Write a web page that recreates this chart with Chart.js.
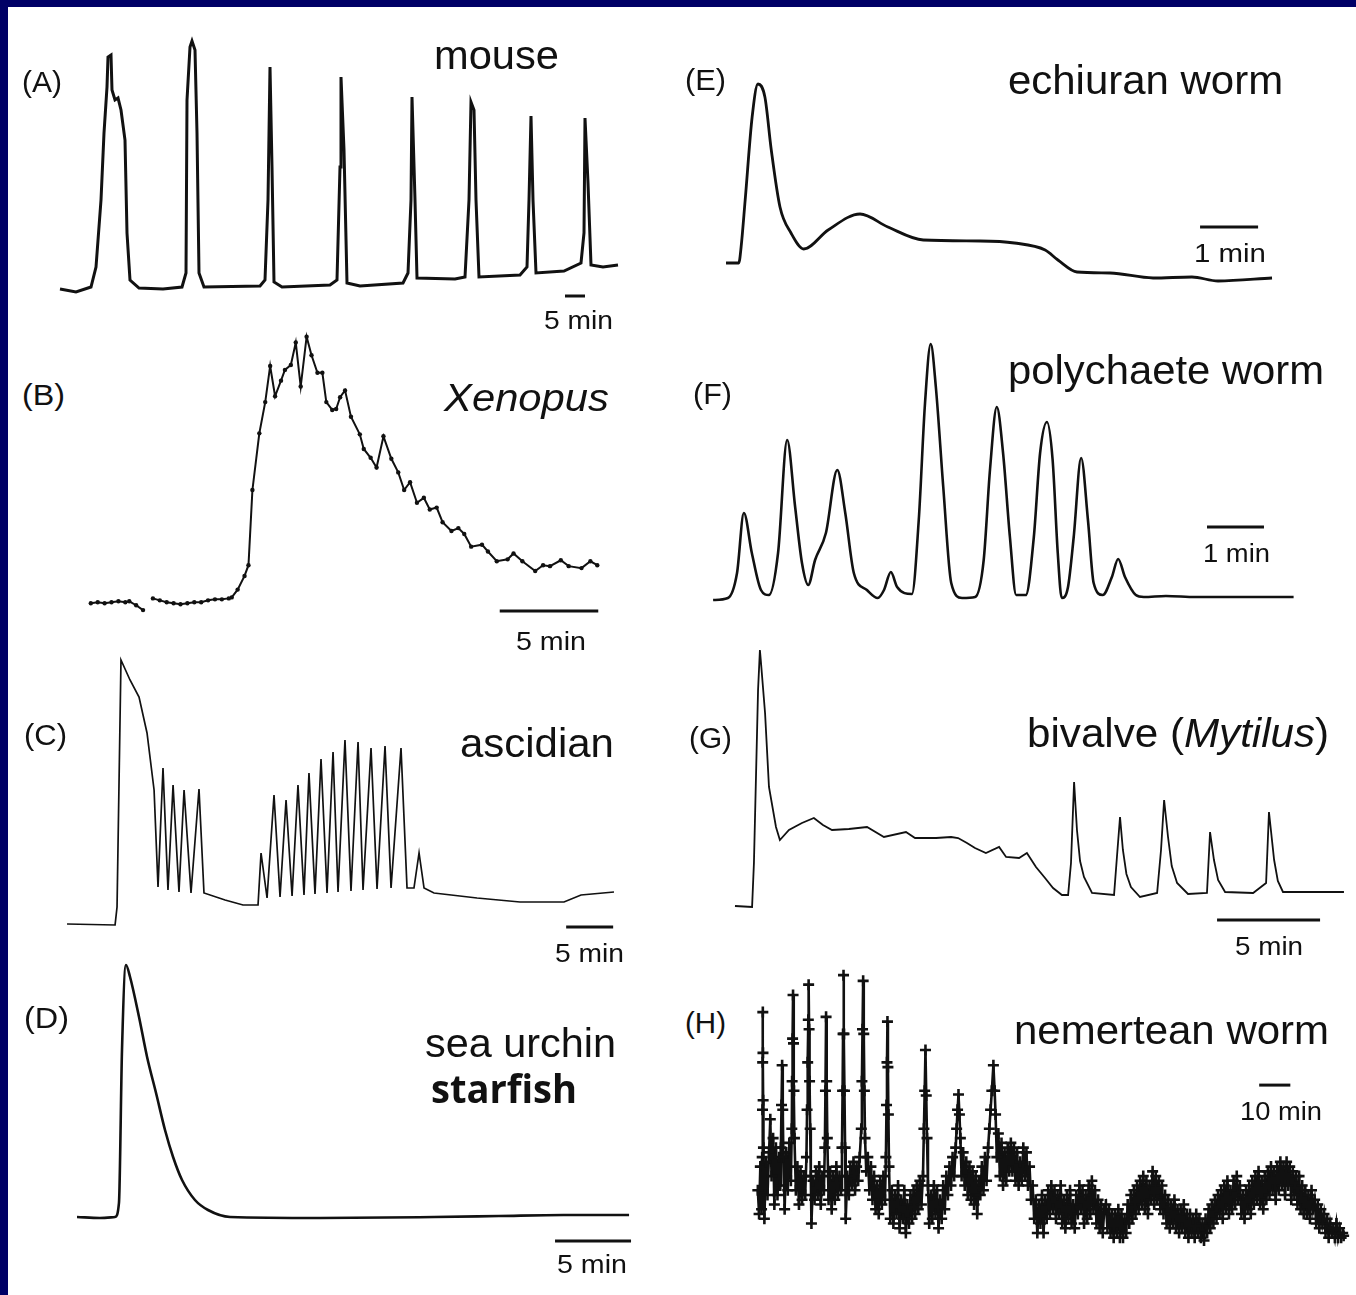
<!DOCTYPE html>
<html lang="en">
<head>
<meta charset="UTF-8">
<title>Ca2+ signals at fertilization</title>
<script src="https://cdn.jsdelivr.net/npm/chart.js"></script>
<style>
  html, body { margin: 0; padding: 0; background: #fff; width: 1356px; height: 1295px; overflow: hidden; position: relative; }
  .edge { position: absolute; background: #000066; z-index: 5; }
  canvas { position: absolute; }
  .lbl { position: absolute; white-space: nowrap; line-height: 1; color: #111;
         font-family: "Liberation Sans", Arial, sans-serif; transform-origin: 0 0; }
</style>
</head>
<body>
<div class="edge" style="left:0;top:0;width:1356px;height:7px"></div>
<div class="edge" style="left:0;top:0;width:8px;height:1295px"></div>
<script>
// traces: [time (min), signal (a.u. above baseline)]
const mouse = [[0,1],[4,-2],[7.75,3],[9,23],[10.25,90],[11,157],[11.75,203],[12,233],[12.75,235],[13,200],[13.75,190],[14.5,192],[15.25,180],[16.25,150],[16.75,57],[17.5,10],[19.75,2],[25.75,1],[30.5,3],[31.5,17],[31.75,190],[32.5,243],[33,249],[33.75,240],[34.25,157],[34.75,17],[36,3],[50,4],[51.25,10],[52,90],[52.5,223],[53,123],[53.5,8],[55.5,3],[67.5,5],[69.25,10],[70,123],[70.25,213],[71,140],[71.75,7],[75,4],[85.75,7],[87,17],[87.75,90],[88,193],[88.75,90],[89.25,12],[98.75,11],[101.25,13],[102.25,90],[102.75,188],[103.5,180],[104,90],[104.75,13],[115,15],[116.75,23],[117.25,90],[117.75,174],[118.25,90],[119,17],[126,19],[130.25,27],[131,57],[131.25,172],[132,107],[132.75,25],[135.75,23],[139.5,25]];

const xenopus = [[0,0],[0.35,1],[0.7,0],[1.05,1],[1.4,2],[1.75,1],[1.95,2],[2.3,-2],[2.65,-7],[2.9,null],[3.15,5],[3.5,3],[3.85,1],[4.2,0],[4.55,-1],[4.9,0],[5.25,1],[5.6,1],[5.95,3],[6.3,4],[6.65,4],[7,5],[7.15,6],[7.45,14],[7.8,28],[8,39],[8.2,116],[8.55,174],[8.85,206],[9.1,243],[9.35,212],[9.65,228],[9.85,239],[10.15,244],[10.4,267],[10.65,222],[10.95,273],[11.2,254],[11.5,236],[11.75,236],[11.95,206],[12.25,198],[12.45,199],[12.65,211],[12.9,218],[13.2,191],[13.65,173],[13.85,158],[14.2,149],[14.5,139],[14.85,171],[15.25,148],[15.6,134],[15.9,116],[16.2,124],[16.55,103],[16.9,108],[17.2,96],[17.55,98],[17.85,83],[18.3,74],[18.65,77],[18.95,71],[19.3,58],[19.85,60],[20.15,53],[20.6,43],[21.15,45],[21.45,51],[21.9,43],[22.55,33],[22.95,39],[23.3,38],[23.85,44],[24.25,38],[24.9,36],[25.35,43],[25.7,39]];

const ascidian = [[0,0],[5.11,-1],[5.32,17],[5.74,264],[6.7,244],[7.66,227],[8.51,191],[9.26,134],[9.68,37],[10.21,156],[10.74,34],[11.28,139],[11.91,32],[12.45,134],[13.19,31],[14.04,135],[14.57,31],[16.81,24],[18.72,19],[20.32,19],[20.64,71],[21.28,26],[22.02,129],[22.66,27],[23.3,124],[23.94,28],[24.57,139],[25.21,29],[25.74,151],[26.38,30],[27.02,165],[27.66,31],[28.3,172],[28.83,32],[29.57,184],[30.21,33],[30.96,182],[31.49,34],[32.34,176],[32.98,35],[33.83,178],[34.47,36],[35.53,176],[36.17,36],[36.91,36],[37.45,71],[37.98,36],[39.04,31],[43.62,26],[48.19,22],[52.87,22],[54.68,29],[58.19,32]];

const seaUrchin = [[0,0],[1.51,-1],[2.5,0],[2.76,14],[2.96,167],[3.22,252],[3.49,240],[4.08,200],[4.61,160],[5.2,124],[5.79,87],[6.32,60],[6.91,37],[7.76,17],[8.62,7],[10.07,0],[16,-1],[23.49,0],[27.76,1],[32,2],[36.32,2]];

const echiuran = [[0,0],[0.22,0],[0.26,16],[0.33,63],[0.45,146],[0.55,179],[0.67,166],[0.78,113],[0.93,56],[1.12,30],[1.34,14],[1.76,33],[2.31,49],[2.79,36],[3.4,23],[4.38,22],[4.97,20],[5.5,13],[5.72,3],[6.05,-9],[6.62,-10],[7.36,-15],[8.03,-14],[8.48,-18],[9.41,-15]];

const polychaete = [[0,-2],[0.26,0],[0.42,25],[0.54,85],[0.68,45],[0.84,8],[0.98,3],[1.14,45],[1.3,158],[1.44,91],[1.56,35],[1.67,13],[1.79,38],[1.98,65],[2.18,128],[2.32,85],[2.47,25],[2.7,8],[2.89,0],[3,8],[3.12,26],[3.23,11],[3.49,4],[3.61,78],[3.72,195],[3.82,254],[3.91,211],[4.04,111],[4.18,15],[4.37,0],[4.6,1],[4.75,38],[4.86,128],[4.98,191],[5.09,145],[5.21,61],[5.32,3],[5.49,3],[5.63,61],[5.74,145],[5.86,176],[5.96,138],[6.05,45],[6.12,0],[6.23,11],[6.33,61],[6.46,140],[6.58,78],[6.68,15],[6.84,3],[7,21],[7.11,39],[7.23,21],[7.42,3],[7.56,1],[7.95,2],[8.47,1],[10.19,1]];

const mytilus = [[0,0],[0.83,-1],[0.92,43],[1.12,216],[1.21,256],[1.26,244],[1.46,193],[1.65,119],[1.99,79],[2.18,66],[2.62,76],[3.25,83],[3.83,88],[4.27,81],[4.71,76],[5.53,77],[6.41,79],[7.23,69],[8.3,74],[8.74,68],[9.76,68],[10.49,69],[10.83,68],[11.26,63],[11.65,58],[12.18,53],[12.82,59],[13.16,49],[13.79,48],[14.17,53],[14.61,39],[15.05,28],[15.44,18],[15.87,11],[16.17,11],[16.31,43],[16.46,124],[16.6,76],[16.75,45],[16.94,29],[17.33,13],[18.4,11],[18.54,49],[18.69,89],[18.83,56],[19,32],[19.22,19],[19.66,9],[20.49,13],[20.68,56],[20.83,106],[21.02,69],[21.2,40],[21.46,23],[21.99,12],[22.91,13],[23.06,74],[23.25,46],[23.45,26],[23.79,14],[25.15,13],[25.78,23],[25.92,94],[26.17,46],[26.35,25],[26.6,14],[29.56,14]];

const nemertean = [[0,5],[0.4,-20],[0.8,30],[1.2,-15],[1.4,40],[1.5,90],[1.55,140],[1.6,193],[1.65,150],[1.7,100],[1.8,50],[2.1,-25],[2.6,35],[3.1,0],[3.6,45],[4,80],[4.4,20],[4.9,60],[5.3,-10],[5.8,50],[6.3,0],[6.8,40],[7.2,10],[7.4,50],[7.6,95],[7.8,137],[8,90],[8.2,40],[8.6,-15],[9.1,45],[9.6,5],[10.1,55],[10.6,15],[10.9,70],[11,120],[11.15,165],[11.3,211],[11.45,160],[11.6,110],[11.75,60],[12.2,5],[12.7,30],[13.2,-10],[13.7,25],[14.2,-5],[14.7,20],[15.2,0],[15.6,40],[15.8,90],[16,140],[16.2,185],[16.3,222],[16.45,175],[16.6,120],[16.8,70],[17,20],[17.2,-30],[17.7,15],[18.2,-5],[18.7,25],[19.2,0],[19.7,30],[20.2,-10],[20.7,20],[21.2,5],[21.5,50],[21.7,110],[21.9,188],[22.1,120],[22.3,60],[22.7,-5],[23.2,25],[23.7,-15],[24.2,20],[24.7,-5],[25.2,30],[25.7,0],[26.2,20],[26.7,5],[27,50],[27.2,110],[27.35,170],[27.5,232],[27.65,170],[27.8,110],[28,50],[28.2,-25],[28.7,20],[29.2,0],[29.7,30],[30.2,10],[30.7,35],[31.2,5],[31.7,30],[32.2,15],[32.7,40],[33.2,70],[33.4,120],[33.6,175],[33.8,226],[34,170],[34.2,110],[34.4,60],[34.8,25],[35.3,40],[35.8,5],[36.3,30],[36.8,-5],[37.3,20],[37.8,-15],[38.3,10],[38.8,-20],[39.3,15],[39.8,-10],[40.3,20],[40.8,-5],[41.1,40],[41.3,95],[41.45,140],[41.6,183],[41.75,135],[41.9,85],[42.1,30],[42.5,-25],[43,5],[43.5,-30],[44,0],[44.5,-20],[45,10],[45.5,-35],[46,-5],[46.5,-25],[47,5],[47.5,-40],[48,-10],[48.5,-30],[49,0],[49.5,-25],[50,5],[50.5,-20],[51,10],[51.5,-15],[52,15],[52.5,-10],[53,20],[53.3,70],[53.55,110],[53.8,153],[54.05,105],[54.3,60],[54.6,10],[55,-30],[55.5,0],[56,-25],[56.5,10],[57,-20],[57.5,5],[58,-35],[58.5,-5],[59,-25],[59.5,10],[60,-15],[60.5,20],[61,0],[61.5,30],[62,10],[62.5,40],[63,20],[63.5,50],[63.8,70],[64.1,90],[64.4,106],[64.7,85],[65,60],[65.4,20],[65.9,45],[66.4,10],[66.9,35],[67.4,0],[67.9,30],[68.4,-5],[68.9,25],[69.4,-10],[69.9,20],[70.4,-20],[70.9,15],[71.4,0],[71.9,30],[72.4,5],[72.9,40],[73.4,15],[73.9,50],[74.3,70],[74.7,90],[75.1,110],[75.6,137],[76,110],[76.3,85],[76.7,40],[77.2,65],[77.7,20],[78.2,55],[78.7,10],[79.2,45],[79.7,15],[80.2,50],[80.7,25],[81.2,55],[81.7,25],[82.2,50],[82.7,15],[83.2,45],[83.7,10],[84.2,35],[84.7,15],[85.2,50],[85.7,20],[86.2,45],[86.7,10],[87.2,30],[87.7,-5],[88.2,10],[88.7,-25],[89.2,-5],[89.7,-40],[90.2,-10],[90.7,-30],[91.2,0],[91.7,-40],[92.2,-5],[92.7,-25],[93.2,5],[93.7,-20],[94.2,10],[94.7,-15],[95.2,5],[95.7,-25],[96.2,0],[96.7,-20],[97.2,10],[97.7,-30],[98.2,-5],[98.7,-35],[99.2,0],[99.7,-25],[100.2,5],[100.7,-30],[101.2,-10],[101.7,-35],[102.2,0],[102.7,-20],[103.2,10],[103.7,-15],[104.2,5],[104.7,-30],[105.2,0],[105.7,-25],[106.2,10],[106.7,-20],[107.2,15],[107.7,-15],[108.2,5],[108.7,-30],[109.2,-5],[109.7,-35],[110.2,-10],[110.7,-40],[111.2,-15],[111.7,-10],[112.2,-35],[112.7,-15],[113.2,-40],[113.7,-20],[114.2,-45],[114.7,-20],[115.2,-40],[115.7,-15],[116.2,-45],[116.7,-20],[117.2,-45],[117.7,-25],[118.2,-40],[118.7,-10],[119.2,-30],[119.7,0],[120.2,-25],[120.7,5],[121.2,-20],[121.7,10],[122.2,-15],[122.7,15],[123.2,-10],[123.7,20],[124.2,-15],[124.7,15],[125.2,-20],[125.7,10],[126.2,-5],[126.7,25],[127.2,-10],[127.7,20],[128.2,-5],[128.7,15],[129.2,-15],[129.7,10],[130.2,-20],[130.7,0],[131.2,-30],[131.7,-5],[132.2,-35],[132.7,-10],[133.2,-30],[133.7,-5],[134.2,-35],[134.7,-15],[135.2,-40],[135.7,-15],[136.2,-35],[136.7,-10],[137.2,-40],[137.7,-20],[138.2,-45],[138.7,-20],[139.2,-40],[139.7,-25],[140.2,-45],[140.7,-20],[141.2,-40],[141.7,-25],[142.2,-45],[142.7,-30],[143.2,-48],[143.7,-25],[144.2,-40],[144.7,-15],[145.2,-35],[145.7,-10],[146.2,-30],[146.7,-5],[147.2,-25],[147.7,0],[148.2,-20],[148.7,5],[149.2,-25],[149.7,10],[150.2,-15],[150.7,15],[151.2,-20],[151.7,5],[152.2,-15],[152.7,15],[153.2,-10],[153.7,20],[154.2,-5],[154.7,10],[155.2,-20],[155.7,0],[156.2,-25],[156.7,5],[157.2,-15],[157.7,10],[158.2,-20],[158.7,15],[159.2,-10],[159.7,20],[160.2,-5],[160.7,25],[161.2,-10],[161.7,15],[162.2,-15],[162.7,20],[163.2,-5],[163.7,25],[164.2,0],[164.7,30],[165.2,5],[165.7,25],[166.2,-5],[166.7,30],[167.2,5],[167.7,35],[168.2,10],[168.7,30],[169.2,0],[169.7,35],[170.2,10],[170.7,30],[171.2,-5],[171.7,25],[172.2,0],[172.7,20],[173.2,-10],[173.7,20],[174.2,-15],[174.7,10],[175.2,-20],[175.7,5],[176.2,-20],[176.7,0],[177.2,-25],[177.7,5],[178.2,-15],[178.7,-5],[179.2,-30],[179.7,-10],[180.2,-35],[180.7,-15],[181.2,-30],[181.7,-20],[182.2,-40],[182.7,-25],[183.2,-45],[183.7,-30],[184.2,-40],[184.7,-35],[185.2,-45],[185.7,-30],[186.2,-45],[186.7,-35],[187.2,-45],[187.7,-40],[188,-43]];

// scale bar lengths (min)
const scaleMin = [5, 5, 5, 5, 1, 1, 5, 10];
const scaleText = ['5 min', '5 min', '5 min', '5 min', '1 min', '1 min', '5 min', '10 min'];

// panel boxes: [left, top, width, height], x/y ranges, bar start [t, level]
const panels = [
  { trace: mouse,      box: [50, 30, 580, 310],   x: [-2.5, 142.5],  y: [-50, 260], bar: [126.25, -6], lw: 3 },
  { trace: xenopus,    box: [75, 320, 545, 340],  x: [-0.6, 26.65],  y: [-54, 286], bar: [20.75, -8],  lw: 2,
    extra: { pointRadius: 2.2, pointBackgroundColor: '#111', pointBorderWidth: 0 } },
  { trace: ascidian,   box: [55, 640, 570, 330],  x: [-1.28, 59.36], y: [-46, 284], bar: [53.1, -3],   lw: 1.7 },
  { trace: seaUrchin,  box: [65, 950, 575, 340],  x: [-0.79, 37.04], y: [-73, 267], bar: [31.45, -24], lw: 2.6,
    extra: { cubicInterpolationMode: 'monotone' } },
  { trace: echiuran,   box: [715, 40, 575, 270],  x: [-0.19, 9.72],  y: [-47, 223], bar: [8.17, 36],   lw: 2.8,
    extra: { cubicInterpolationMode: 'monotone' } },
  { trace: polychaete, box: [700, 320, 605, 310], x: [-0.23, 10.39], y: [-32, 278], bar: [8.67, 71],   lw: 2.6,
    extra: { cubicInterpolationMode: 'monotone' } },
  { trace: mytilus,    box: [722, 625, 630, 335], x: [-0.63, 29.95], y: [-54, 281], bar: [23.4, -14],  lw: 1.8 },
  { trace: nemertean,  box: [740, 950, 616, 310], x: [-3.125, 189.375], y: [-60, 250], bar: [160.9, 116], lw: 2.6,
    extra: { pointStyle: 'cross', pointRadius: 5.5, pointBorderColor: '#111', pointBorderWidth: 2.6 } }
];

panels.forEach((p, i) => {
  const [l, t, w, h] = p.box;
  const c = document.createElement('canvas');
  c.width = w; c.height = h;
  c.style.left = l + 'px'; c.style.top = t + 'px';
  document.body.appendChild(c);
  const pts = p.trace.map(d => ({ x: d[0], y: d[1] }));
  const bar = [{ x: p.bar[0], y: p.bar[1] }, { x: p.bar[0] + scaleMin[i], y: p.bar[1] }];
  new Chart(c, {
    type: 'line',
    data: {
      datasets: [
        Object.assign({ data: pts, borderColor: '#111', borderWidth: p.lw, pointRadius: 0,
                        tension: 0, spanGaps: false, fill: false, clip: false }, p.extra || {}),
        { data: bar, borderColor: '#111', borderWidth: 3, pointRadius: 0, borderCapStyle: 'butt' }
      ]
    },
    options: {
      responsive: false, animation: false, devicePixelRatio: 1, events: [],
      layout: { padding: 0 },
      plugins: { legend: { display: false }, tooltip: { enabled: false } },
      scales: {
        x: { type: 'linear', display: false, min: p.x[0], max: p.x[1] },
        y: { display: false, min: p.y[0], max: p.y[1] }
      }
    }
  });
});

// labels: [html, left, baseline, size, ink width, bold]
const labels = [
  ['(A)', 22, 92, 30, 40], ['mouse', 434, 70, 41, 125], [scaleText[0], 544, 329, 26, 69],
  ['(B)', 22, 405, 30, 43], ['<i>Xenopus</i>', 444, 411, 38, 165], [scaleText[1], 516, 650, 26, 70],
  ['(C)', 24, 745, 30, 43], ['ascidian', 460, 757, 40, 154], [scaleText[2], 555, 962, 26, 69],
  ['(D)', 24, 1028, 30, 45], ['sea urchin', 425, 1057, 40, 191], ['starfish', 431, 1104, 40, 146, true],
  [scaleText[3], 557, 1273, 26, 70],
  ['(E)', 685, 90, 30, 41], ['echiuran worm', 1008, 95, 41, 275], [scaleText[4], 1194, 262, 26, 72],
  ['(F)', 693, 404, 30, 39], ['polychaete worm', 1008, 385, 41, 316], [scaleText[5], 1203, 562, 26, 67],
  ['(G)', 689, 748, 30, 43], ['bivalve (<i>Mytilus</i>)', 1027, 748, 41, 302], [scaleText[6], 1235, 955, 26, 68],
  ['(H)', 685, 1033, 30, 41], ['nemertean worm', 1014, 1045, 41, 315], [scaleText[7], 1240, 1120, 26, 82]
];

labels.forEach(([html, left, base, size, inkW, bold]) => {
  const d = document.createElement('div');
  d.className = 'lbl';
  d.innerHTML = html;
  d.style.fontSize = size + 'px';
  let off = 0.8465;
  if (bold) { d.style.fontFamily = '"Open Sans", "Noto Sans", sans-serif'; d.style.fontWeight = '700'; off = 0.888; }
  d.style.left = left + 'px';
  d.style.top = (base - off * size) + 'px';
  document.body.appendChild(d);
  const w = d.getBoundingClientRect().width;
  if (w > 0) d.style.transform = 'scaleX(' + (inkW / w).toFixed(3) + ')';
});
</script>
</body>
</html>
